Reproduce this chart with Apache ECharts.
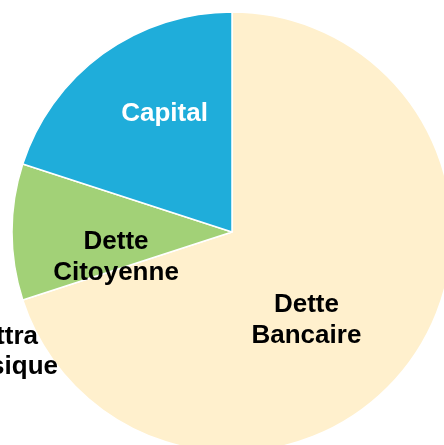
<!DOCTYPE html>
<html>
<head>
<meta charset="utf-8">
<script src="https://cdn.jsdelivr.net/npm/echarts@6/dist/echarts.min.js"></script>
<style>
  html, body { margin: 0; padding: 0; background: #fff; }
  #chart { width: 444px; height: 445px; }
</style>
</head>
<body>
<div id="chart"></div>
<script>
// parts of the financing, clockwise from the top
var categories = ["Dette Bancaire", "Dette Citoyenne", "Capital"];
var values = [70, 10, 20];
var colors = ["#fff0cd", "#a2d177", "#1fadda"];
var labelColors = ["#000", "#000", "#fff"];
// nudges so labels sit where the original put them
var labelOffsets = [[-17, 22], [-3, 25], [-1, -27]];

var font = "'Liberation Sans', Arial, sans-serif";

var myChart = echarts.init(document.getElementById("chart"));

var pieData = categories.map(function (name, i) {
  return {
    name: name,
    value: values[i],
    itemStyle: { color: colors[i] },
    label: { color: labelColors[i], offset: labelOffsets[i] }
  };
});

var option = {
  animation: false,
  backgroundColor: "#fff",
  // leftover label, cut off by the left edge of the picture
  graphic: {
    elements: [
      {
        type: "text", z: 10,
        style: { text: "ttra", x: 38, y: 337, fill: "#000", font: "bold 26px " + font, textAlign: "right", textVerticalAlign: "middle" }
      },
      {
        type: "text", z: 10,
        style: { text: "sique", x: 58, y: 367, fill: "#000", font: "bold 26px " + font, textAlign: "right", textVerticalAlign: "middle" }
      }
    ]
  },
  series: [
    {
      type: "pie",
      center: [232, 232],
      radius: 220,
      startAngle: 90,
      clockwise: true,
      avoidLabelOverlap: false,
      itemStyle: { borderColor: "#fff", borderWidth: 1.5 },
      label: {
        show: true,
        position: "inside",
        fontFamily: font,
        fontWeight: "bold",
        fontSize: 26,
        lineHeight: 31,
        align: "center",
        formatter: function (p) { return p.name.replace(" ", "\n"); }
      },
      labelLine: { show: false },
      emphasis: { disabled: true },
      data: pieData
    }
  ]
};

myChart.setOption(option);
</script>
</body>
</html>
